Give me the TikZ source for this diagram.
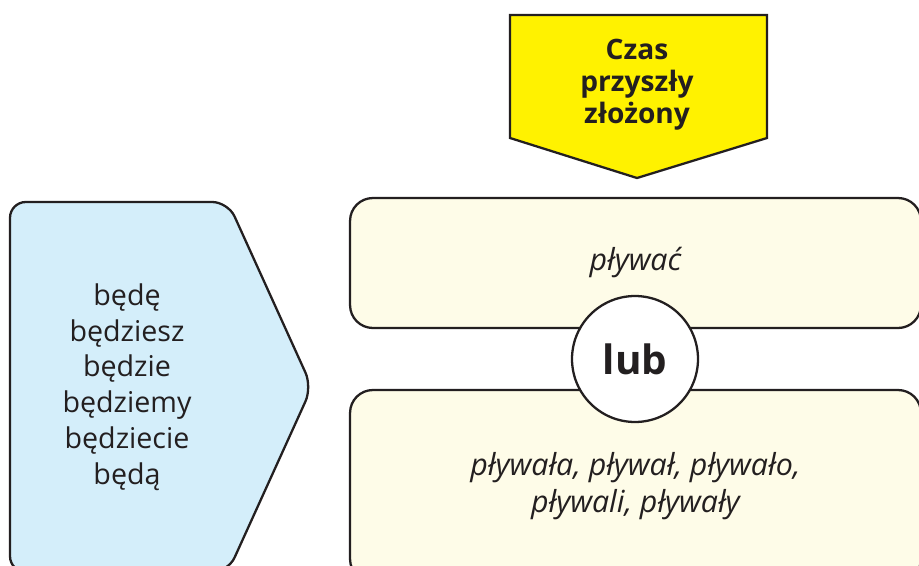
\documentclass[tikz,border=0pt]{standalone}
\usepackage{fontspec}
\setmainfont{Open Sans}
\definecolor{tyellow}{RGB}{255,242,0}
\definecolor{tblue}{RGB}{212,238,250}
\definecolor{tcream}{RGB}{254,252,232}
\definecolor{tink}{RGB}{35,31,32}
\usetikzlibrary{positioning}

\begin{document}
\begin{tikzpicture}[
  x=0.02cm, y=-0.02cm,
  line width=1.3pt,
  every node/.style={text=tink,align=center},
  formbox/.style={draw=tink,fill=tcream,rounded corners=13pt,
                  minimum width=11.42cm,inner sep=0pt},
  formtext/.style={font=\fontsize{17.3}{21.5}\selectfont\itshape},
]
  \useasboundingbox (0,0) rectangle (919,565);

  % Title
  \draw[draw=tink,fill=tyellow] (510,15) -- (767,15) -- (767,138)
    -- (637,178) -- (510,138) -- cycle;
  \node[font=\fontsize{16}{18.2}\selectfont\bfseries] (title) at (637,85)
    {Czas\\przyszły\\złożony};

  % Forms of "być"
  \draw[draw=tink,fill=tblue,rounded corners=9pt] (10,202) -- (228,202)
    -- (312,387) -- (228,572) -- (10,572) -- cycle;
  \node[font=\fontsize{16.3}{20.4}\selectfont] (byc) at (127,387)
    {będę\\będziesz\\będzie\\będziemy\\będziecie\\będą};

  % Verb boxes
  \node[formbox,minimum height=2.6cm,formtext] (inf) at (635.5,263) {pływać};
  \node[formbox,minimum height=3.84cm,formtext] (past) at (635.5,486)
    {pływała, pływał, pływało,\\pływali, pływały};

  % Or
  \node[circle,draw=tink,fill=white,minimum size=2.52cm,
        font=\fontsize{23}{25}\selectfont\bfseries] (lub) at (635,359) {lub};
\end{tikzpicture}
\end{document}
